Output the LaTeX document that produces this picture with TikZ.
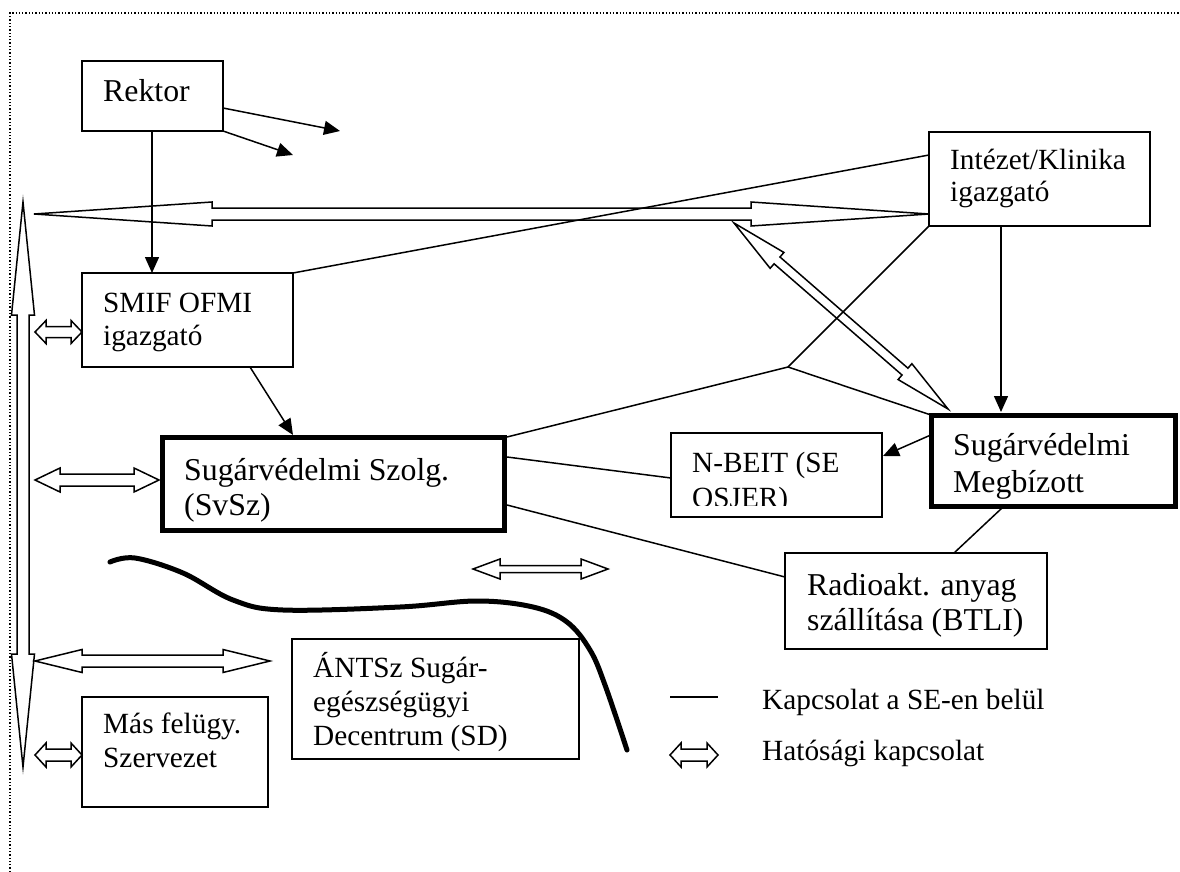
\documentclass[tikz,border=0pt]{standalone}
\usepackage{fontspec}
\setmainfont{Liberation Serif}
\usetikzlibrary{calc,arrows.meta}
\newcommand\dblarr[5]{%
 \draw[dbl] (#1) -- ($($(#1)!#5pt!(#2)$)!#4pt!90:(#2)$) -- ($($(#1)!#5pt!(#2)$)!#3pt!90:(#2)$)
  -- ($($(#2)!#5pt!(#1)$)!#3pt!-90:(#1)$) -- ($($(#2)!#5pt!(#1)$)!#4pt!-90:(#1)$) -- (#2)
  -- ($($(#2)!#5pt!(#1)$)!#4pt!90:(#1)$) -- ($($(#2)!#5pt!(#1)$)!#3pt!90:(#1)$)
  -- ($($(#1)!#5pt!(#2)$)!#3pt!-90:(#2)$) -- ($($(#1)!#5pt!(#2)$)!#4pt!-90:(#2)$) -- cycle;}
\begin{document}
\begin{tikzpicture}[x=1pt,y=-1pt,
 box/.style={draw, line width=1.5pt, rectangle, inner sep=0pt, outer sep=0pt, anchor=north west},
 thickbox/.style={draw, line width=5pt, rectangle, inner sep=0pt, outer sep=0pt, anchor=north west},
 txt/.style={anchor=base west, inner sep=0pt, font=\fontsize{29.3}{34}\selectfont},
 bigtxt/.style={anchor=base west, inner sep=0pt, font=\fontsize{31.8}{37}\selectfont},
 conn/.style={line width=1.5pt},
 arr/.style={line width=1.5pt, -{Triangle[length=16pt,width=14pt]}},
 dbl/.style={line width=1.5pt, line join=miter},
 boldcurve/.style={line width=5pt, line cap=round},
 frame/.style={dotted, line width=1.3pt}]
\useasboundingbox (0,0) rectangle (1180,872);
\draw[frame] (10,872) -- (10,13) -- (1182,13);

% boxes
\node[box, minimum width=141, minimum height=70] (rektor) at (82,61) {};
\node[box, minimum width=211, minimum height=94] (smif) at (82,273) {};
\node[box, minimum width=221, minimum height=94] (intezet) at (929,132) {};
\node[thickbox, minimum width=342, minimum height=93] (svsz) at (162,437) {};
\node[thickbox, minimum width=244, minimum height=91] (megb) at (931,415) {};
\node[box, minimum width=211, minimum height=84] (nbeit) at (671,433) {};
\node[box, minimum width=262, minimum height=96] (radio) at (785,553) {};
\node[box, minimum width=287, minimum height=120] (antsz) at (292,639) {};
\node[box, minimum width=186, minimum height=110] (mas) at (82,697) {};

% texts
\node[bigtxt] (t1) at (103,102) {Rektor};
\node[txt] (t2a) at (103,312) {SMIF OFMI};
\node[txt] (t2b) at (103,345) {igazgató};
\node[txt] (t3a) at (950,169) {Intézet/Klinika};
\node[txt] (t3b) at (950,201) {igazgató};
\node[bigtxt] (t4a) at (184,480) {Sugárvédelmi Szolg.};
\node[bigtxt] (t4b) at (184,515) {(SvSz)};
\node[bigtxt] (t5a) at (953,455) {Sugárvédelmi};
\node[bigtxt] (t5b) at (953,492) {Megbízott};
\node[txt] (t6a) at (692,472) {N-BEIT (SE};
\begin{scope}
\clip (671,433) rectangle (882,505);
\node[txt] (t6b) at (692,507) {OSJER)};
\end{scope}
\node[bigtxt] (t7a) at (807,595) {Radioakt. anyag};
\node[bigtxt] (t7b) at (807,630) {szállítása (BTLI)};
\node[txt] (t8a) at (313,677) {ÁNTSz Sugár-};
\node[txt] (t8b) at (313,711) {egészségügyi};
\node[txt] (t8c) at (313,745) {Decentrum (SD)};
\node[txt] (t9a) at (103,733) {Más felügy.};
\node[txt] (t9b) at (103,767) {Szervezet};
\node[txt] (l1) at (762,709) {Kapcsolat a SE-en belül};
\node[txt] (l2) at (762,760) {Hatósági kapcsolat};

% coordinates
\coordinate (rkA) at (223,108);
\coordinate (rkAe) at (340,131);
\coordinate (rkBe) at (293,155);
\coordinate (rkD) at (152,131);
\coordinate (smT) at (152,273);
\coordinate (inL) at (929,155);
\coordinate (smB) at (250,367);
\coordinate (svT) at (293,435);
\coordinate (inB) at (1001,226);
\coordinate (mgT) at (1001,412);
\coordinate (junc) at (788,367);
\coordinate (svR1) at (507,437);
\coordinate (svR2) at (507,457);
\coordinate (svR3) at (507,505);
\coordinate (mgL) at (933,434);
\coordinate (nbR) at (883,456);
\coordinate (nbL) at (671,478);
\coordinate (raL) at (785,577);
\coordinate (mgB) at (1002,508);
\coordinate (raT) at (954,553);
\coordinate (lgA) at (670,697);
\coordinate (lgB) at (718,697);

% connectors
\draw[arr] (rkD) -- (smT);
\draw[arr] (rkA) -- (rkAe);
\draw[arr] (rektor.south east) -- (rkBe);
\draw[conn] (smif.north east) -- (inL);
\draw[arr] (smB) -- (svT);
\draw[arr] (inB) -- (mgT);
\draw[conn] (intezet.south west) -- (junc) -- (svR1);
\draw[conn] (junc) -- (megb.north west);
\draw[arr] (mgL) -- (nbR);
\draw[conn] (svR2) -- (nbL);
\draw[conn] (svR3) -- (raL);
\draw[conn] (mgB) -- (raT);
\draw[conn] (lgA) -- (lgB);

% double arrows
\coordinate (hA) at (34,214); \coordinate (hB) at (929,214);
\dblarr{hA}{hB}{6}{12}{178}
\coordinate (vA) at (23,202); \coordinate (vB) at (23,767);
\dblarr{vA}{vB}{6}{11.5}{113}
\coordinate (sA) at (35,332); \coordinate (sB) at (82,332);
\dblarr{sA}{sB}{5.5}{11.5}{11}
\coordinate (svA) at (35,480); \coordinate (svB) at (159,480);
\dblarr{svA}{svB}{6}{12}{25}
\coordinate (aA) at (35,661); \coordinate (aB) at (270,661);
\dblarr{aA}{aB}{6}{11.5}{47}
\coordinate (mA) at (35,755); \coordinate (mB) at (82,755);
\dblarr{mA}{mB}{6}{12}{11}
\coordinate (cA) at (473,569); \coordinate (cB) at (608,569);
\dblarr{cA}{cB}{3.5}{10}{27}
\coordinate (dA) at (734,223); \coordinate (dB) at (948,409);
\dblarr{dA}{dB}{4.5}{10.5}{57}
\coordinate (gA) at (670,755); \coordinate (gB) at (718,755);
\dblarr{gA}{gB}{6}{12}{11}

% thick curve
\draw[boldcurve] plot[smooth, tension=0.6] coordinates {(110,562) (135,558) (183,573) (233,600) (283,610) (400,607) (477,601) (533,607) (567,622) (590,650) (605,685) (627,750)};
\end{tikzpicture}
\end{document}
